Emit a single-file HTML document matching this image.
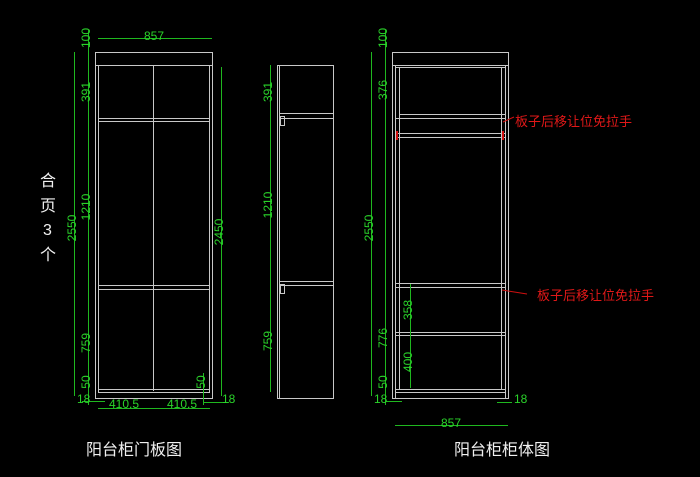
<!DOCTYPE html>
<html><head><meta charset="utf-8"><style>
html,body{margin:0;padding:0;background:#000;width:700px;height:477px;overflow:hidden}
svg{display:block}
.w{stroke:#c8c8c8;stroke-width:1;fill:none}
.g{stroke:#1fb81f;stroke-width:1;fill:none}
.gt{fill:#2ad42a;font-family:"Liberation Sans",sans-serif;font-size:12px}
.r{fill:#e01818;font-family:"Liberation Sans","Noto Sans CJK SC",sans-serif;font-size:13px}
.t{fill:#f0f0f0;font-family:"Liberation Sans","Noto Sans CJK SC",sans-serif;font-size:16px}
</style></head><body>
<svg width="700" height="477" viewBox="0 0 700 477" xmlns="http://www.w3.org/2000/svg">
<rect class="w" x="95.5" y="52.5" width="117" height="13"/>
<line class="w" x1="95.5" y1="65" x2="95.5" y2="398"/>
<line class="w" x1="212.5" y1="65" x2="212.5" y2="398"/>
<line class="w" x1="98.5" y1="65" x2="98.5" y2="392"/>
<line class="w" x1="209.5" y1="65" x2="209.5" y2="392"/>
<line class="w" x1="95" y1="398.5" x2="213" y2="398.5"/>
<line class="w" x1="98" y1="392.5" x2="210" y2="392.5"/>
<line class="w" x1="98" y1="389.5" x2="210" y2="389.5"/>
<line class="w" x1="98" y1="118.5" x2="210" y2="118.5"/>
<line class="w" x1="98" y1="121.5" x2="210" y2="121.5"/>
<line class="w" x1="98" y1="285.5" x2="210" y2="285.5"/>
<line class="w" x1="98" y1="289.5" x2="210" y2="289.5"/>
<line class="w" x1="153.5" y1="65" x2="153.5" y2="391"/>
<line class="g" x1="74.5" y1="52" x2="74.5" y2="396"/>
<line class="g" x1="88.5" y1="30" x2="88.5" y2="405"/>
<line class="g" x1="221.5" y1="67" x2="221.5" y2="396"/>
<line class="g" x1="98" y1="38.5" x2="212" y2="38.5"/>
<line class="g" x1="98" y1="408.5" x2="210" y2="408.5"/>
<line class="g" x1="82" y1="401.5" x2="105" y2="401.5"/>
<line class="g" x1="204" y1="402.5" x2="229" y2="402.5"/>
<line class="g" x1="203.5" y1="373" x2="203.5" y2="405"/>
<g class="gt">
<text x="90" y="38" transform="rotate(-90 90 38)" text-anchor="middle">100</text>
<text x="90" y="92" transform="rotate(-90 90 92)" text-anchor="middle">391</text>
<text x="90" y="207" transform="rotate(-90 90 207)" text-anchor="middle">1210</text>
<text x="76" y="228" transform="rotate(-90 76 228)" text-anchor="middle">2550</text>
<text x="90" y="343" transform="rotate(-90 90 343)" text-anchor="middle">759</text>
<text x="90" y="382" transform="rotate(-90 90 382)" text-anchor="middle">50</text>
<text x="205" y="382" transform="rotate(-90 205 382)" text-anchor="middle">50</text>
<text x="223" y="232" transform="rotate(-90 223 232)" text-anchor="middle">2450</text>
<text x="154" y="40" text-anchor="middle">857</text>
<text x="77" y="403">18</text>
<text x="222" y="403">18</text>
<text x="124" y="408" text-anchor="middle">410.5</text>
<text x="182" y="408" text-anchor="middle">410.5</text>
</g>
<text class="t" x="40" y="186" font-size="18">合</text>
<text class="t" x="40" y="211" font-size="18">页</text>
<text class="t" x="43" y="235" font-size="18">3</text>
<text class="t" x="40" y="260" font-size="18">个</text>
<rect class="w" x="277.5" y="65.5" width="56" height="333"/>
<line class="w" x1="279.5" y1="65" x2="279.5" y2="398"/>
<line class="w" x1="279" y1="113.5" x2="333" y2="113.5"/>
<line class="w" x1="279" y1="118.5" x2="333" y2="118.5"/>
<rect class="w" x="280.5" y="116.5" width="4" height="9"/>
<line class="w" x1="279" y1="281.5" x2="333" y2="281.5"/>
<line class="w" x1="279" y1="285.5" x2="333" y2="285.5"/>
<rect class="w" x="280.5" y="284.5" width="4" height="9"/>
<line class="g" x1="270.5" y1="65" x2="270.5" y2="392"/>
<g class="gt">
<text x="272" y="92" transform="rotate(-90 272 92)" text-anchor="middle">391</text>
<text x="272" y="205" transform="rotate(-90 272 205)" text-anchor="middle">1210</text>
<text x="272" y="341" transform="rotate(-90 272 341)" text-anchor="middle">759</text>
</g>
<rect class="w" x="392.5" y="52.5" width="116" height="13"/>
<line class="w" x1="392.5" y1="65" x2="392.5" y2="398"/>
<line class="w" x1="395.5" y1="65" x2="395.5" y2="398"/>
<line class="w" x1="399.5" y1="67" x2="399.5" y2="389"/>
<line class="w" x1="505.5" y1="65" x2="505.5" y2="398"/>
<line class="w" x1="508.5" y1="65" x2="508.5" y2="398"/>
<line class="w" x1="501.5" y1="67" x2="501.5" y2="389"/>
<line class="w" x1="396" y1="67.5" x2="505" y2="67.5"/>
<line class="w" x1="399" y1="114.5" x2="505" y2="114.5"/>
<line class="w" x1="396" y1="118.5" x2="505" y2="118.5"/>
<line class="w" x1="396" y1="133.5" x2="505" y2="133.5"/>
<line class="w" x1="396" y1="137.5" x2="505" y2="137.5"/>
<rect x="396" y="131" width="2" height="9" fill="#d01010"/>
<rect x="502" y="131" width="2" height="9" fill="#d01010"/>
<line class="w" x1="396" y1="283.5" x2="505" y2="283.5"/>
<line class="w" x1="396" y1="287.5" x2="505" y2="287.5"/>
<line class="w" x1="396" y1="332.5" x2="505" y2="332.5"/>
<line class="w" x1="396" y1="335.5" x2="505" y2="335.5"/>
<line class="w" x1="396" y1="389.5" x2="505" y2="389.5"/>
<line class="w" x1="396" y1="392.5" x2="505" y2="392.5"/>
<line class="w" x1="392" y1="398.5" x2="509" y2="398.5"/>
<line class="g" x1="371.5" y1="52" x2="371.5" y2="396"/>
<line class="g" x1="385.5" y1="30" x2="385.5" y2="405"/>
<line class="g" x1="410.5" y1="284" x2="410.5" y2="388"/>
<line class="g" x1="395" y1="425.5" x2="508" y2="425.5"/>
<line class="g" x1="386" y1="401.5" x2="402" y2="401.5"/>
<line class="g" x1="497" y1="402.5" x2="512" y2="402.5"/>
<g class="gt">
<text x="387" y="38" transform="rotate(-90 387 38)" text-anchor="middle">100</text>
<text x="387" y="90" transform="rotate(-90 387 90)" text-anchor="middle">376</text>
<text x="373" y="228" transform="rotate(-90 373 228)" text-anchor="middle">2550</text>
<text x="387" y="338" transform="rotate(-90 387 338)" text-anchor="middle">776</text>
<text x="387" y="382" transform="rotate(-90 387 382)" text-anchor="middle">50</text>
<text x="412" y="310" transform="rotate(-90 412 310)" text-anchor="middle">358</text>
<text x="412" y="362" transform="rotate(-90 412 362)" text-anchor="middle">400</text>
<text x="451" y="427" text-anchor="middle">857</text>
<text x="374" y="403">18</text>
<text x="514" y="403">18</text>
</g>
<line x1="503" y1="122" x2="514" y2="117" stroke="#d01010"/>
<line x1="502" y1="290" x2="527" y2="294" stroke="#d01010"/>
<text class="r" x="515" y="126">板子后移让位免拉手</text>
<text class="r" x="537" y="300">板子后移让位免拉手</text>
<text class="t" x="86" y="455">阳台柜门板图</text>
<text class="t" x="454" y="455">阳台柜柜体图</text>
</svg>
</body></html>
